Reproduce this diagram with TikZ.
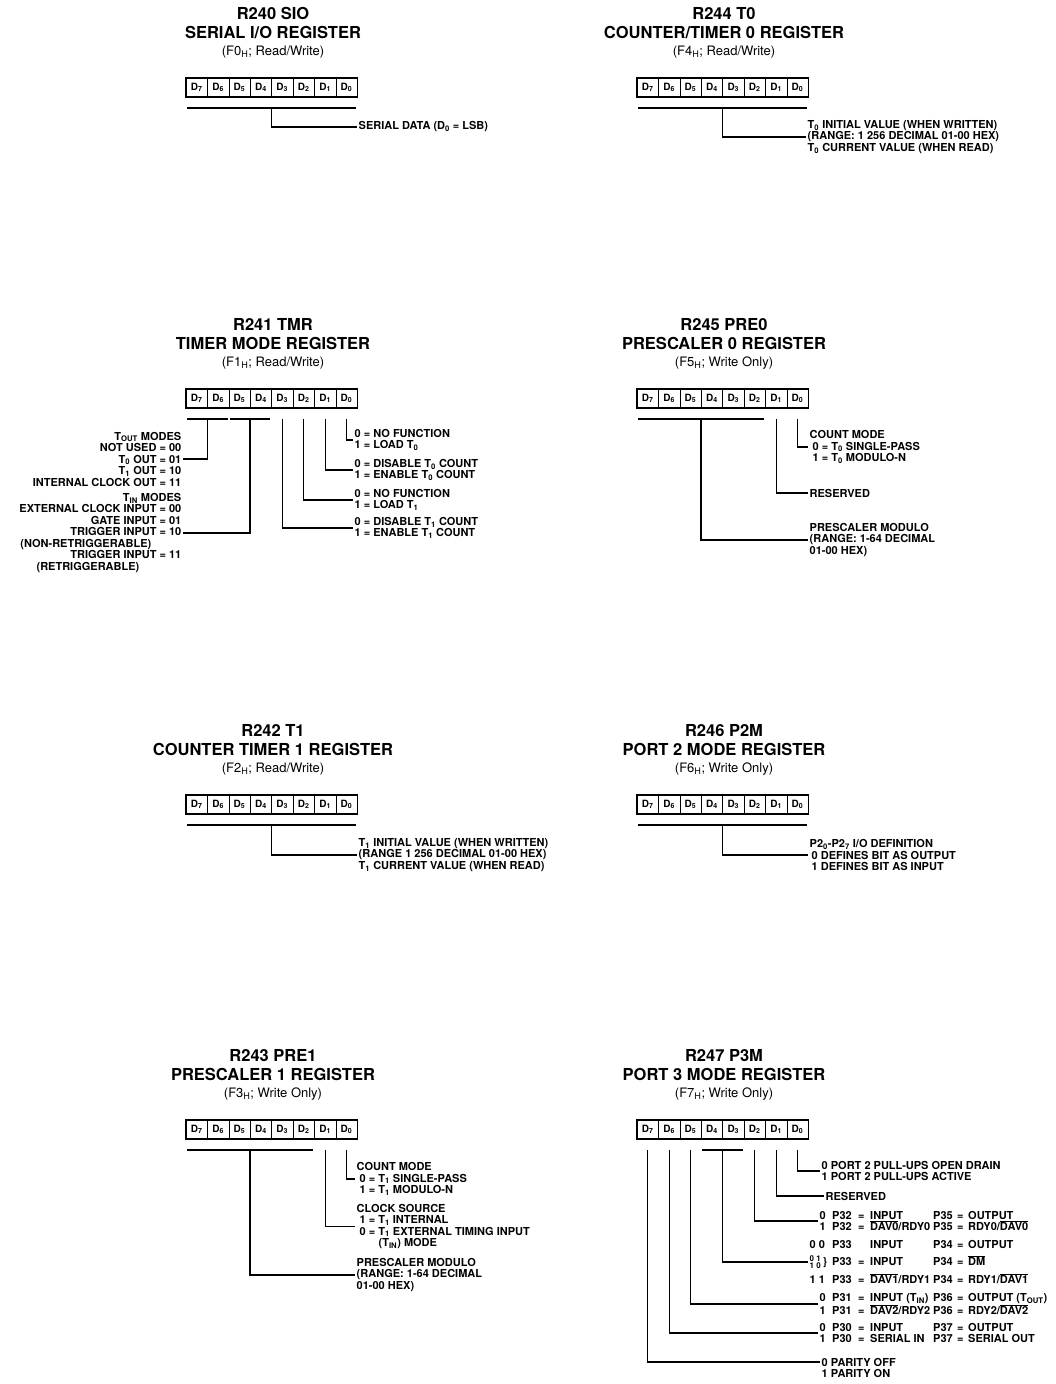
\documentclass[tikz,border=0pt]{standalone}
\usepackage{fontspec}
\setmainfont{TeX Gyre Heros}

\tikzset{
  bitcell/.style={draw, line width=0.6pt, minimum width=21.4pt, minimum height=19pt,
    inner sep=0pt, font=\fontsize{10}{10}\selectfont\bfseries},
  regframe/.style={line width=1.8pt},
  regname/.style={font=\fontsize{16.5}{18}\selectfont\bfseries, anchor=base, inner sep=0pt},
  regaddr/.style={font=\fontsize{13}{15}\selectfont, anchor=base, inner sep=0pt},
  lbl/.style={font=\fontsize{11}{11.5}\selectfont\bfseries, align=left, inner sep=1.5pt},
  bracket/.style={line width=1.4pt, shorten <=1.5pt, shorten >=1.5pt},
  leader/.style={line width=1.2pt},
}

\newcommand{\tsub}[1]{\textsubscript{#1}}
\newcommand{\ovl}[1]{$\overline{\hbox{#1}}$}
\newcommand{\twobits}{\smash{\fontsize{8}{8}\selectfont\rlap{\raisebox{3.8pt}{0 1}}\raisebox{-3.8pt}{1 0}}\hspace{2pt}\}}
% one row of the port 3 table: bits, port, =, value, port, value
\newcommand{\pmrow}[6][12.5pt]{\makebox[#1][l]{#2}\makebox[26pt][l]{#3}\makebox[12pt][l]{#4}%
  \makebox[63pt][l]{#5}\makebox[24pt][l]{#6}\makebox[11pt][l]{=}}

% register title: name, centre x, baseline y, three lines
\newcommand{\regtitle}[6]{%
  \node[regname] (#1-name) at (#2,#3) {#4};
  \node[regname] (#1-desc) at (#2,#3+18.5) {#5};
  \node[regaddr] (#1-addr) at (#2,#3+35.5) {#6};
}
% register bits: name, left x, centre y
\newcommand{\regbox}[3]{%
  \foreach \b [count=\i from 0] in {7,6,...,0}
    \node[bitcell] (#1-\b) at ({#2+10.7+21.4*\i},#3) {D\textsubscript{\b}};
  \draw[regframe] (#1-7.north west) rectangle (#1-0.south east);
}

\begin{document}
\begin{tikzpicture}[x=1pt, y=-1pt]
  \useasboundingbox (0,0) rectangle (1055,1384);
  \fill[white] (0,0) rectangle (1055,1384);

  % R240 serial i/o
  \regtitle{r240}{273}{19.5}{R240 SIO}{SERIAL I/O REGISTER}{(F0\tsub{H}; Read/Write)}
  \regbox{r240}{186}{87.5}
  \coordinate (r240-br) at (0,108);
  \draw[bracket] (r240-7.south west |- r240-br) -- (r240-0.south east |- r240-br);
  \node[lbl, anchor=west] (r240-data) at (357,127) {SERIAL DATA (D\tsub{0} = LSB)};
  \draw[leader] (r240-3.south west |- r240-br) |- (r240-data.west);

  % R244 counter/timer 0
  \regtitle{r244}{724}{19.5}{R244 T0}{COUNTER/TIMER 0 REGISTER}{(F4\tsub{H}; Read/Write)}
  \regbox{r244}{637}{87.5}
  \coordinate (r244-br) at (0,108);
  \draw[bracket] (r244-7.south west |- r244-br) -- (r244-0.south east |- r244-br);
  \node[lbl, anchor=west] (r244-val) at (806,137) {T\tsub{0} INITIAL VALUE (WHEN WRITTEN)\\(RANGE: 1 256 DECIMAL 01-00 HEX)\\T\tsub{0} CURRENT VALUE (WHEN READ)};
  \draw[leader] (r244-3.south west |- r244-br) |- (r244-val.west);

  % R241 timer mode
  \regtitle{r241}{273}{330.5}{R241 TMR}{TIMER MODE REGISTER}{(F1\tsub{H}; Read/Write)}
  \regbox{r241}{186}{398.5}
  \coordinate (r241-br) at (0,419);
  \draw[bracket] (r241-7.south west |- r241-br) -- (r241-6.south east |- r241-br);
  \draw[bracket] (r241-5.south west |- r241-br) -- (r241-4.south east |- r241-br);
  \node[lbl, align=right, anchor=east] (r241-tout) at (183,459) {T\tsub{OUT} MODES\\NOT USED = 00\\T\tsub{0} OUT = 01\\T\tsub{1} OUT = 10\\INTERNAL CLOCK OUT = 11};
  \node[lbl, align=right, anchor=east] (r241-tin) at (183,533) {T\tsub{IN} MODES\\EXTERNAL CLOCK INPUT = 00\\GATE INPUT = 01\\TRIGGER INPUT = 10\\(NON-RETRIGGERABLE)\kern30pt\\TRIGGER INPUT = 11\\(RETRIGGERABLE)\kern42pt};
  \node[lbl, anchor=west] (r241-d0) at (353,440) {0 = NO FUNCTION\\1 = LOAD T\tsub{0}};
  \node[lbl, anchor=west] (r241-d1) at (353,470) {0 = DISABLE T\tsub{0} COUNT\\1 = ENABLE T\tsub{0} COUNT};
  \node[lbl, anchor=west] (r241-d2) at (353,500) {0 = NO FUNCTION\\1 = LOAD T\tsub{1}};
  \node[lbl, anchor=west] (r241-d3) at (353,528) {0 = DISABLE T\tsub{1} COUNT\\1 = ENABLE T\tsub{1} COUNT};
  \draw[leader] (r241-6.south west |- r241-br) |- (r241-tout.east);
  \draw[leader] (r241-4.south west |- r241-br) |- (r241-tin.east);
  \foreach \b in {0,...,3}
    \draw[leader] (r241-\b.south |- r241-br) |- (r241-d\b.west);

  % R245 prescaler 0
  \regtitle{r245}{724}{330.5}{R245 PRE0}{PRESCALER 0 REGISTER}{(F5\tsub{H}; Write Only)}
  \regbox{r245}{637}{398.5}
  \coordinate (r245-br) at (0,419);
  \draw[bracket] (r245-7.south west |- r245-br) -- (r245-2.south east |- r245-br);
  \node[lbl, anchor=west] (r245-cnt) at (808,447) {COUNT MODE\\\hspace*{3pt}0 = T\tsub{0} SINGLE-PASS\\\hspace*{3pt}1 = T\tsub{0} MODULO-N};
  \node[lbl, anchor=west] (r245-rsv) at (808,493) {RESERVED};
  \node[lbl, anchor=west] (r245-psc) at (808,540) {PRESCALER MODULO\\(RANGE: 1-64 DECIMAL\\01-00 HEX)};
  \draw[leader] (r245-0.south |- r245-br) |- (r245-cnt.west);
  \draw[leader] (r245-1.south |- r245-br) |- (r245-rsv.west);
  \draw[leader] (r245-4.south west |- r245-br) |- (r245-psc.west);

  % R242 counter/timer 1
  \regtitle{r242}{273}{736.5}{R242 T1}{COUNTER TIMER 1 REGISTER}{(F2\tsub{H}; Read/Write)}
  \regbox{r242}{186}{804.5}
  \coordinate (r242-br) at (0,825);
  \draw[bracket] (r242-7.south west |- r242-br) -- (r242-0.south east |- r242-br);
  \node[lbl, anchor=west] (r242-val) at (357,855) {T\tsub{1} INITIAL VALUE (WHEN WRITTEN)\\(RANGE 1 256 DECIMAL 01-00 HEX)\\T\tsub{1} CURRENT VALUE (WHEN READ)};
  \draw[leader] (r242-3.south west |- r242-br) |- (r242-val.west);

  % R246 port 2 mode
  \regtitle{r246}{724}{736.5}{R246 P2M}{PORT 2 MODE REGISTER}{(F6\tsub{H}; Write Only)}
  \regbox{r246}{637}{804.5}
  \coordinate (r246-br) at (0,825);
  \draw[bracket] (r246-7.south west |- r246-br) -- (r246-0.south east |- r246-br);
  \node[lbl, anchor=west] (r246-io) at (808,855) {P2\tsub{0}-P2\tsub{7} I/O DEFINITION\\\hspace*{2pt}0 DEFINES BIT AS OUTPUT\\\hspace*{2pt}1 DEFINES BIT AS INPUT};
  \draw[leader] (r246-3.south west |- r246-br) |- (r246-io.west);

  % R243 prescaler 1
  \regtitle{r243}{273}{1061.5}{R243 PRE1}{PRESCALER 1 REGISTER}{(F3\tsub{H}; Write Only)}
  \regbox{r243}{186}{1129.5}
  \coordinate (r243-br) at (0,1150);
  \draw[bracket] (r243-7.south west |- r243-br) -- (r243-2.south east |- r243-br);
  \node[lbl, anchor=west] (r243-cnt) at (355,1179) {COUNT MODE\\\hspace*{3pt}0 = T\tsub{1} SINGLE-PASS\\\hspace*{3pt}1 = T\tsub{1} MODULO-N};
  \node[lbl, anchor=west] (r243-clk) at (355,1226.5) {CLOCK SOURCE\\\hspace*{3pt}1 = T\tsub{1} INTERNAL\\\hspace*{3pt}0 = T\tsub{1} EXTERNAL TIMING INPUT\\\hspace*{22pt}(T\tsub{IN}) MODE};
  \node[lbl, anchor=west] (r243-psc) at (355,1275) {PRESCALER MODULO\\(RANGE: 1-64 DECIMAL\\01-00 HEX)};
  \draw[leader] (r243-0.south |- r243-br) |- (r243-cnt.west);
  \draw[leader] (r243-1.south |- r243-br) |- (r243-clk.west);
  \draw[leader] (r243-4.south west |- r243-br) |- (r243-psc.west);

  % R247 port 3 mode
  \regtitle{r247}{724}{1061.5}{R247 P3M}{PORT 3 MODE REGISTER}{(F7\tsub{H}; Write Only)}
  \regbox{r247}{637}{1129.5}
  \coordinate (r247-br) at (0,1150);
  \draw[bracket] (r247-4.south west |- r247-br) -- (r247-3.south east |- r247-br);
  \node[lbl, anchor=west] (r247-pu) at (820,1171) {0 PORT 2 PULL-UPS OPEN DRAIN\\1 PORT 2 PULL-UPS ACTIVE};
  \node[lbl, anchor=west] (r247-rsv) at (824,1196) {RESERVED};
  \node[lbl, anchor=west] (r247-p32) at (818,1221) {\pmrow{0}{P32}{=}{INPUT}{P35}OUTPUT\\\pmrow{1}{P32}{=}{\ovl{DAV0}/RDY0}{P35}RDY0/\ovl{DAV0}};
  \node[lbl, anchor=west] (r247-p33) at (808,1262) {\pmrow[22.5pt]{0 0}{P33}{}{INPUT}{P34}OUTPUT\\[5pt]\pmrow[22.5pt]{\twobits}{P33}{=}{INPUT}{P34}\ovl{DM}\\[5pt]\pmrow[22.5pt]{1 1}{P33}{=}{\ovl{DAV1}/RDY1}{P34}RDY1/\ovl{DAV1}};
  \node[lbl, anchor=west] (r247-p31) at (818,1304) {\pmrow{0}{P31}{=}{INPUT (T\tsub{IN})}{P36}OUTPUT (T\tsub{OUT})\\\pmrow{1}{P31}{=}{\ovl{DAV2}/RDY2}{P36}RDY2/\ovl{DAV2}};
  \node[lbl, anchor=west] (r247-p30) at (818,1333) {\pmrow{0}{P30}{=}{INPUT}{P37}OUTPUT\\\pmrow{1}{P30}{=}{SERIAL IN}{P37}SERIAL OUT};
  \node[lbl, anchor=west] (r247-par0) at (820,1362) {0 PARITY OFF};
  \node[lbl, anchor=west] (r247-par1) at (820,1373) {1 PARITY ON};
  \draw[leader] (r247-0.south |- r247-br) |- (r247-pu.west);
  \draw[leader] (r247-1.south |- r247-br) |- (r247-rsv.west);
  \draw[leader] (r247-2.south |- r247-br) |- (r247-p32.west);
  \draw[leader] (r247-3.south west |- r247-br) |- (r247-p33.west);
  \draw[leader] (r247-5.south |- r247-br) |- (r247-p31.west);
  \draw[leader] (r247-6.south |- r247-br) |- (r247-p30.west);
  \draw[leader] (r247-7.south |- r247-br) |- (r247-par0.west);
\end{tikzpicture}
\end{document}
